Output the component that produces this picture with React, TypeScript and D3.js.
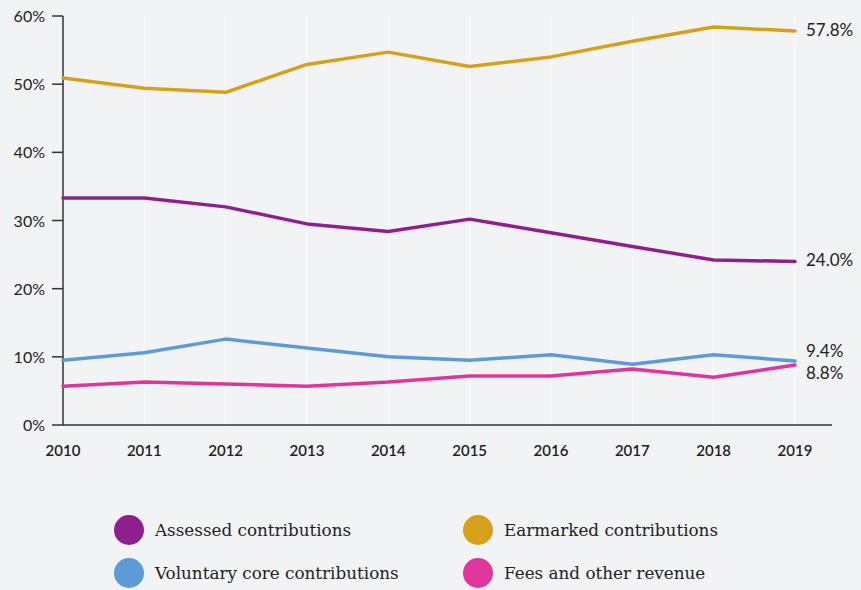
import React from "react";
import * as d3 from "d3";

const years = [2010, 2011, 2012, 2013, 2014, 2015, 2016, 2017, 2018, 2019];
const assessed = [33.3, 33.3, 32.0, 29.5, 28.4, 30.2, 28.2, 26.2, 24.2, 24.0];
const earmarked = [50.9, 49.4, 48.8, 52.9, 54.7, 52.6, 54.0, 56.3, 58.4, 57.8];
const voluntary = [9.5, 10.6, 12.6, 11.3, 10.0, 9.5, 10.3, 8.9, 10.3, 9.4];
const fees = [5.7, 6.3, 6.0, 5.7, 6.3, 7.2, 7.2, 8.2, 7.0, 8.8];
const yTicks = [0, 10, 20, 30, 40, 50, 60];

const series = [
  { name: "Assessed contributions", values: assessed, color: "#8f1f8f", label: "24.0%", dy: 5 },
  { name: "Earmarked contributions", values: earmarked, color: "#d6a01b", label: "57.8%", dy: 5 },
  { name: "Voluntary core contributions", values: voluntary, color: "#5b9bd8", label: "9.4%", dy: -4 },
  { name: "Fees and other revenue", values: fees, color: "#e0359a", label: "8.8%", dy: 14 },
];

const W = 861, H = 590;
const x = d3.scaleLinear().domain([2010, 2019]).range([63, 795]);
const y = d3.scaleLinear().domain([0, 60]).range([425, 16]);
const tickFont = "Lato, 'Open Sans', sans-serif";
const serif = "'DejaVu Serif', serif";

export default function App() {
  const line = (vals: number[]) =>
    d3.line<number>().x((_, i) => x(years[i])).y((v) => y(v))(vals) || "";
  const legendPos = [
    { cx: 129, cy: 530 },
    { cx: 478, cy: 530 },
    { cx: 129, cy: 573 },
    { cx: 478, cy: 573 },
  ];
  return (
    <div style={{ position: "absolute", left: 0, top: 0 }}>
      <svg width={W} height={H} style={{ display: "block", background: "#f2f3f5" }}>
        {years.map((yr) => (
          <line key={yr} x1={x(yr)} x2={x(yr)} y1={16} y2={425} stroke="#ffffff" strokeOpacity={0.7} strokeWidth={1} />
        ))}
        <line x1={63} x2={832} y1={425} y2={425} stroke="#333" strokeWidth={1.5} />
        <line x1={63} x2={63} y1={16} y2={425} stroke="#333" strokeWidth={1.5} />
        {yTicks.map((t) => (
          <g key={t}>
            <line x1={52} x2={63} y1={y(t)} y2={y(t)} stroke="#333" strokeWidth={1.5} />
            <text x={45} y={y(t) + 6} textAnchor="end" fontFamily={tickFont} fontSize={16} fill="#222">
              {t}%
            </text>
          </g>
        ))}
        {years.map((yr) => (
          <text key={yr} x={x(yr)} y={456} textAnchor="middle" fontFamily={tickFont} fontSize={15} fontWeight={600} fill="#222">
            {yr}
          </text>
        ))}
        {series.map((s) => (
          <path key={s.name} d={line(s.values)} fill="none" stroke={s.color} strokeWidth={3.5} strokeLinejoin="round" strokeLinecap="round" />
        ))}
        {series.map((s) => (
          <text key={s.name + "l"} x={806} y={y(s.values[s.values.length - 1]) + s.dy} fontFamily={tickFont} fontSize={17} fill="#222">
            {s.label}
          </text>
        ))}
        {series.map((s, i) => (
          <g key={s.name + "leg"}>
            <circle cx={legendPos[i].cx} cy={legendPos[i].cy} r={15} fill={s.color} />
            <text x={legendPos[i].cx + 26} y={legendPos[i].cy + 6} fontFamily={serif} fontSize={16.8} fill="#222">
              {s.name}
            </text>
          </g>
        ))}
      </svg>
    </div>
  );
}
